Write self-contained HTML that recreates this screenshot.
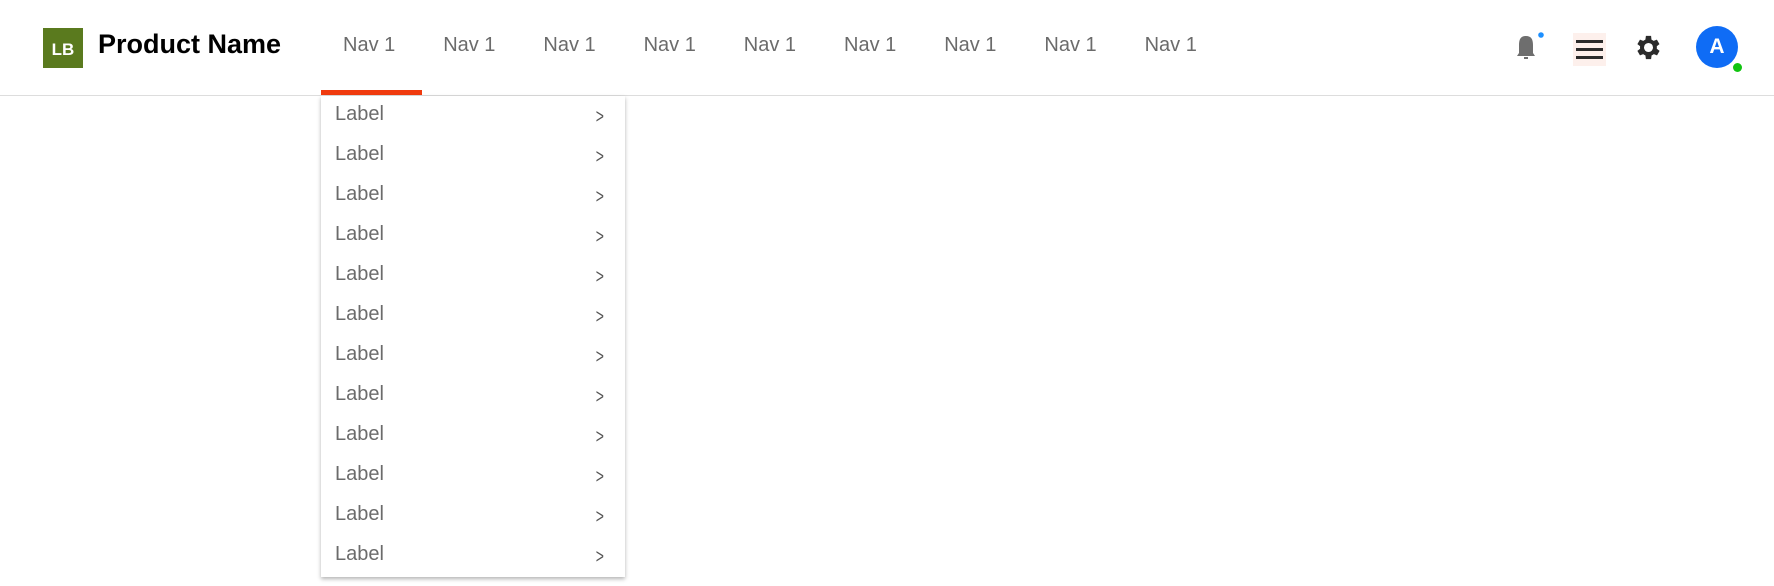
<!DOCTYPE html>
<html><head><meta charset="utf-8"><style>
body{margin:0;width:1774px;height:586px;background:#fff;font-family:"Liberation Sans",sans-serif;position:relative;overflow:hidden}
.abs{position:absolute}
.nav{position:absolute;top:33px;font-size:20px;color:#6b6b6b;line-height:24px}
.row{position:absolute;left:14px;right:0;height:40px;font-size:20px;color:#6b6b6b;line-height:24px}
.row span.c{position:absolute;left:259px;top:3px;font-size:20px;color:#555;transform:scaleX(0.7)}
</style></head><body>
<div class="abs" style="left:0;top:0;width:1774px;height:95px;border-bottom:1px solid #ddd"></div>
<div class="abs" style="left:43px;top:28px;width:40px;height:40px;background:#5a7a1e;color:#fff;font-weight:bold;font-size:17px;line-height:44px;text-align:center">LB</div>
<div class="abs" style="left:98px;top:29px;font-size:27px;font-weight:bold;color:#000;line-height:30px">Product Name</div>
<div id="navs"></div>
<div class="abs" style="left:321px;top:90px;width:101px;height:5px;background:#f03a0e"></div>
<div class="abs" id="dd" style="left:321px;top:96px;width:304px;height:481px;background:#fff;box-shadow:0 2px 4px rgba(0,0,0,0.3)"></div>
<svg class="abs" style="left:1513px;top:31px" width="34" height="32" viewBox="0 0 34 32"><path d="M4 25 L6 22 L6 14 C6 8 8 5 13 5 C18 5 20 8 20 14 L20 22 L22 25 Z" fill="#6e6e6e"/><rect x="11" y="26" width="4" height="2" fill="#6e6e6e"/><circle cx="28" cy="4" r="2.8" fill="#1e90ff"/></svg>
<div class="abs" style="left:1573px;top:33px;width:33px;height:33px;background:#fdf0ec">
<div class="abs" style="left:3px;top:7px;width:27px;height:3px;background:#2b2b2b"></div>
<div class="abs" style="left:3px;top:15px;width:27px;height:3px;background:#2b2b2b"></div>
<div class="abs" style="left:3px;top:23px;width:27px;height:3px;background:#2b2b2b"></div></div>
<svg class="abs" style="left:1633px;top:32px" width="31" height="31" viewBox="0 0 24 24"><path fill="#2b2b2b" d="M19.4 13a7.5 7.5 0 0 0 0-2l2.1-1.6-2-3.5-2.5 1a7.6 7.6 0 0 0-1.7-1L15 3h-4l-.4 2.9a7.6 7.6 0 0 0-1.7 1l-2.5-1-2 3.5L6.5 11a7.5 7.5 0 0 0 0 2l-2.1 1.6 2 3.5 2.5-1a7.6 7.6 0 0 0 1.7 1L11 21h4l.4-2.9a7.6 7.6 0 0 0 1.7-1l2.5 1 2-3.5zM13 15.5a3.5 3.5 0 1 1 0-7 3.5 3.5 0 0 1 0 7z" transform="translate(-1 0)"/></svg>
<div class="abs" style="left:1696px;top:26px;width:42px;height:42px;border-radius:50%;background:#0f6cf5;color:#fff;font-size:21px;font-weight:bold;line-height:42px;text-align:center">A</div>
<div class="abs" style="left:1733px;top:63px;width:9px;height:9px;border-radius:50%;background:#11c411"></div>
<script>
var nav=document.getElementById('navs');
for(var i=0;i<9;i++){var n=document.createElement('div');n.className='nav';n.style.left=(343+i*100.2)+'px';n.textContent='Nav 1';


nav.appendChild(n);}
var dd=document.getElementById('dd');
for(var j=0;j<12;j++){var r=document.createElement('div');r.className='row';r.style.top=(6+j*40)+'px';r.innerHTML='Label<span class="c">&gt;</span>';


dd.appendChild(r);}
</script>
</body></html>
